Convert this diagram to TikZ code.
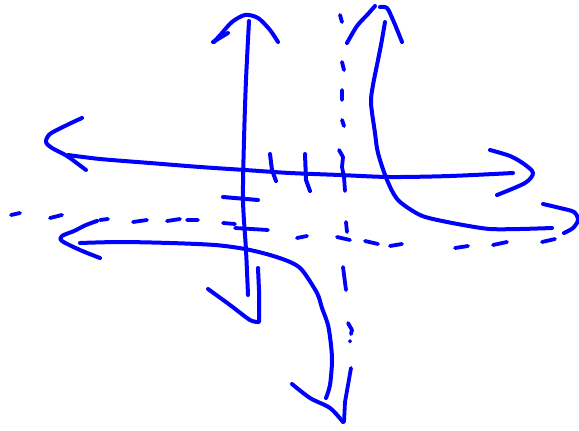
\documentclass[tikz,border=0pt]{standalone}
\usetikzlibrary{arrows.meta}
\definecolor{inkblue}{HTML}{0000FF}

\begin{document}
\begin{tikzpicture}[
  x=1pt, y=-1pt,
  pen/.style={draw=inkblue, line width=4pt, line cap=round, line join=round},
  dashpen/.style={pen, line width=3.8pt}]

%% Lienzo fijo: mismas proporciones que la referencia (579 x 431).
\useasboundingbox (0,0) rectangle (579,431);

%% ---- eje vertical ----
\draw[pen] plot[smooth] coordinates
  {(249,21) (246,80) (244,140) (243,200) (246,250) (248,295)};
\draw[pen] plot[smooth] coordinates
  {(214,42) (222,33) (232,22) (245,15) (258,18) (270,30) (278,42)};
\draw[pen] (213,42) -- (228,33);
\draw[pen] plot[smooth] coordinates {(208,289) (230,305) (250,320) (259,322)}
  -- (259,290) -- (258,268);

%% ---- eje horizontal ----
\draw[pen] plot[smooth] coordinates
  {(68,155) (100,159) (150,163) (200,167) (245,170) (290,173) (340,175)
   (390,177) (450,176) (513,173)};
\draw[pen] plot[smooth] coordinates
  {(82,118) (67,125) (50,134) (46,142) (52,148) (67,156) (86,170)};
\draw[pen] plot[smooth] coordinates
  {(490,150) (510,156) (524,164) (533,173) (525,183) (497,195)};

%% ---- marcas ----
\draw[pen] (270,154) -- (272,170) -- (276,181);
\draw[pen] (305,154) -- (306,180) -- (310,191);
\draw[pen] (223,197) -- (258,200);

%% ---- asíntota vertical (trazos a mano) ----
\draw[dashpen] (340,15) -- (342,22)
  (342,62) -- (344,70)
  (342,90) -- (342,100)
  (342,120) -- (344,126)
  (339,150) -- (343,157) -- (342,167) -- (344,177) -- (345,191)
  (346,222) -- (347,232)
  (343,267) -- (346,290)
  (348,323) -- (352,330) -- (351,334)
  (350,341) -- (350,341.5)
  (351,368) -- (348,385) -- (345,402) -- (344,422);

%% ---- asíntota horizontal ----
\draw[dashpen] (11,215) -- (20,213)
  (50,218) -- (62,215)
  (100,220) -- (108,219)
  (133,222) -- (147,220)
  (167,221) -- (180,219)
  (187,220) -- (198,220)
  (223,223) -- (235,224)
  (235,228) -- (268,230)
  (297,238) -- (307,236)
  (337,237) -- (350,240)
  (365,241) -- (378,244)
  (390,246) -- (402,244)
  (455,248) -- (468,246)
  (493,245) -- (507,242)
  (542,242) -- (555,239);

%% ---- rama superior derecha ----
\draw[pen] plot[smooth] coordinates
  {(385,22) (381,45) (377,65) (373,85) (371,103) (375,133) (378,153)
   (387,180) (398,200) (418,214) (433,219) (463,225) (490,229) (520,229)
   (552,228)};
\draw[pen] plot[smooth] coordinates {(347,43) (357,26) (368,14) (375,6)};
\draw[pen] plot[smooth] coordinates
  {(380,7) (387,8) (393,20) (398,32) (402,42)};
\draw[pen] plot[smooth] coordinates
  {(543,204) (560,208) (574,212) (578,220) (573,228) (564,233)};

%% ---- rama inferior izquierda ----
\draw[pen] plot[smooth] coordinates
  {(80,243) (120,242) (170,243) (215,245) (245,249) (270,255) (290,262)
   (302,270) (317,293) (322,308) (328,325) (331,345) (332,362) (330,385)
   (326,398)};
\draw[pen] plot[smooth] coordinates
  {(100,258) (80,250) (62,241) (62,236) (74,231) (86,225) (97,221)};
\draw[pen] plot[smooth] coordinates
  {(292,384) (310,398) (330,408) (343,422)};

\end{tikzpicture}
\end{document}
